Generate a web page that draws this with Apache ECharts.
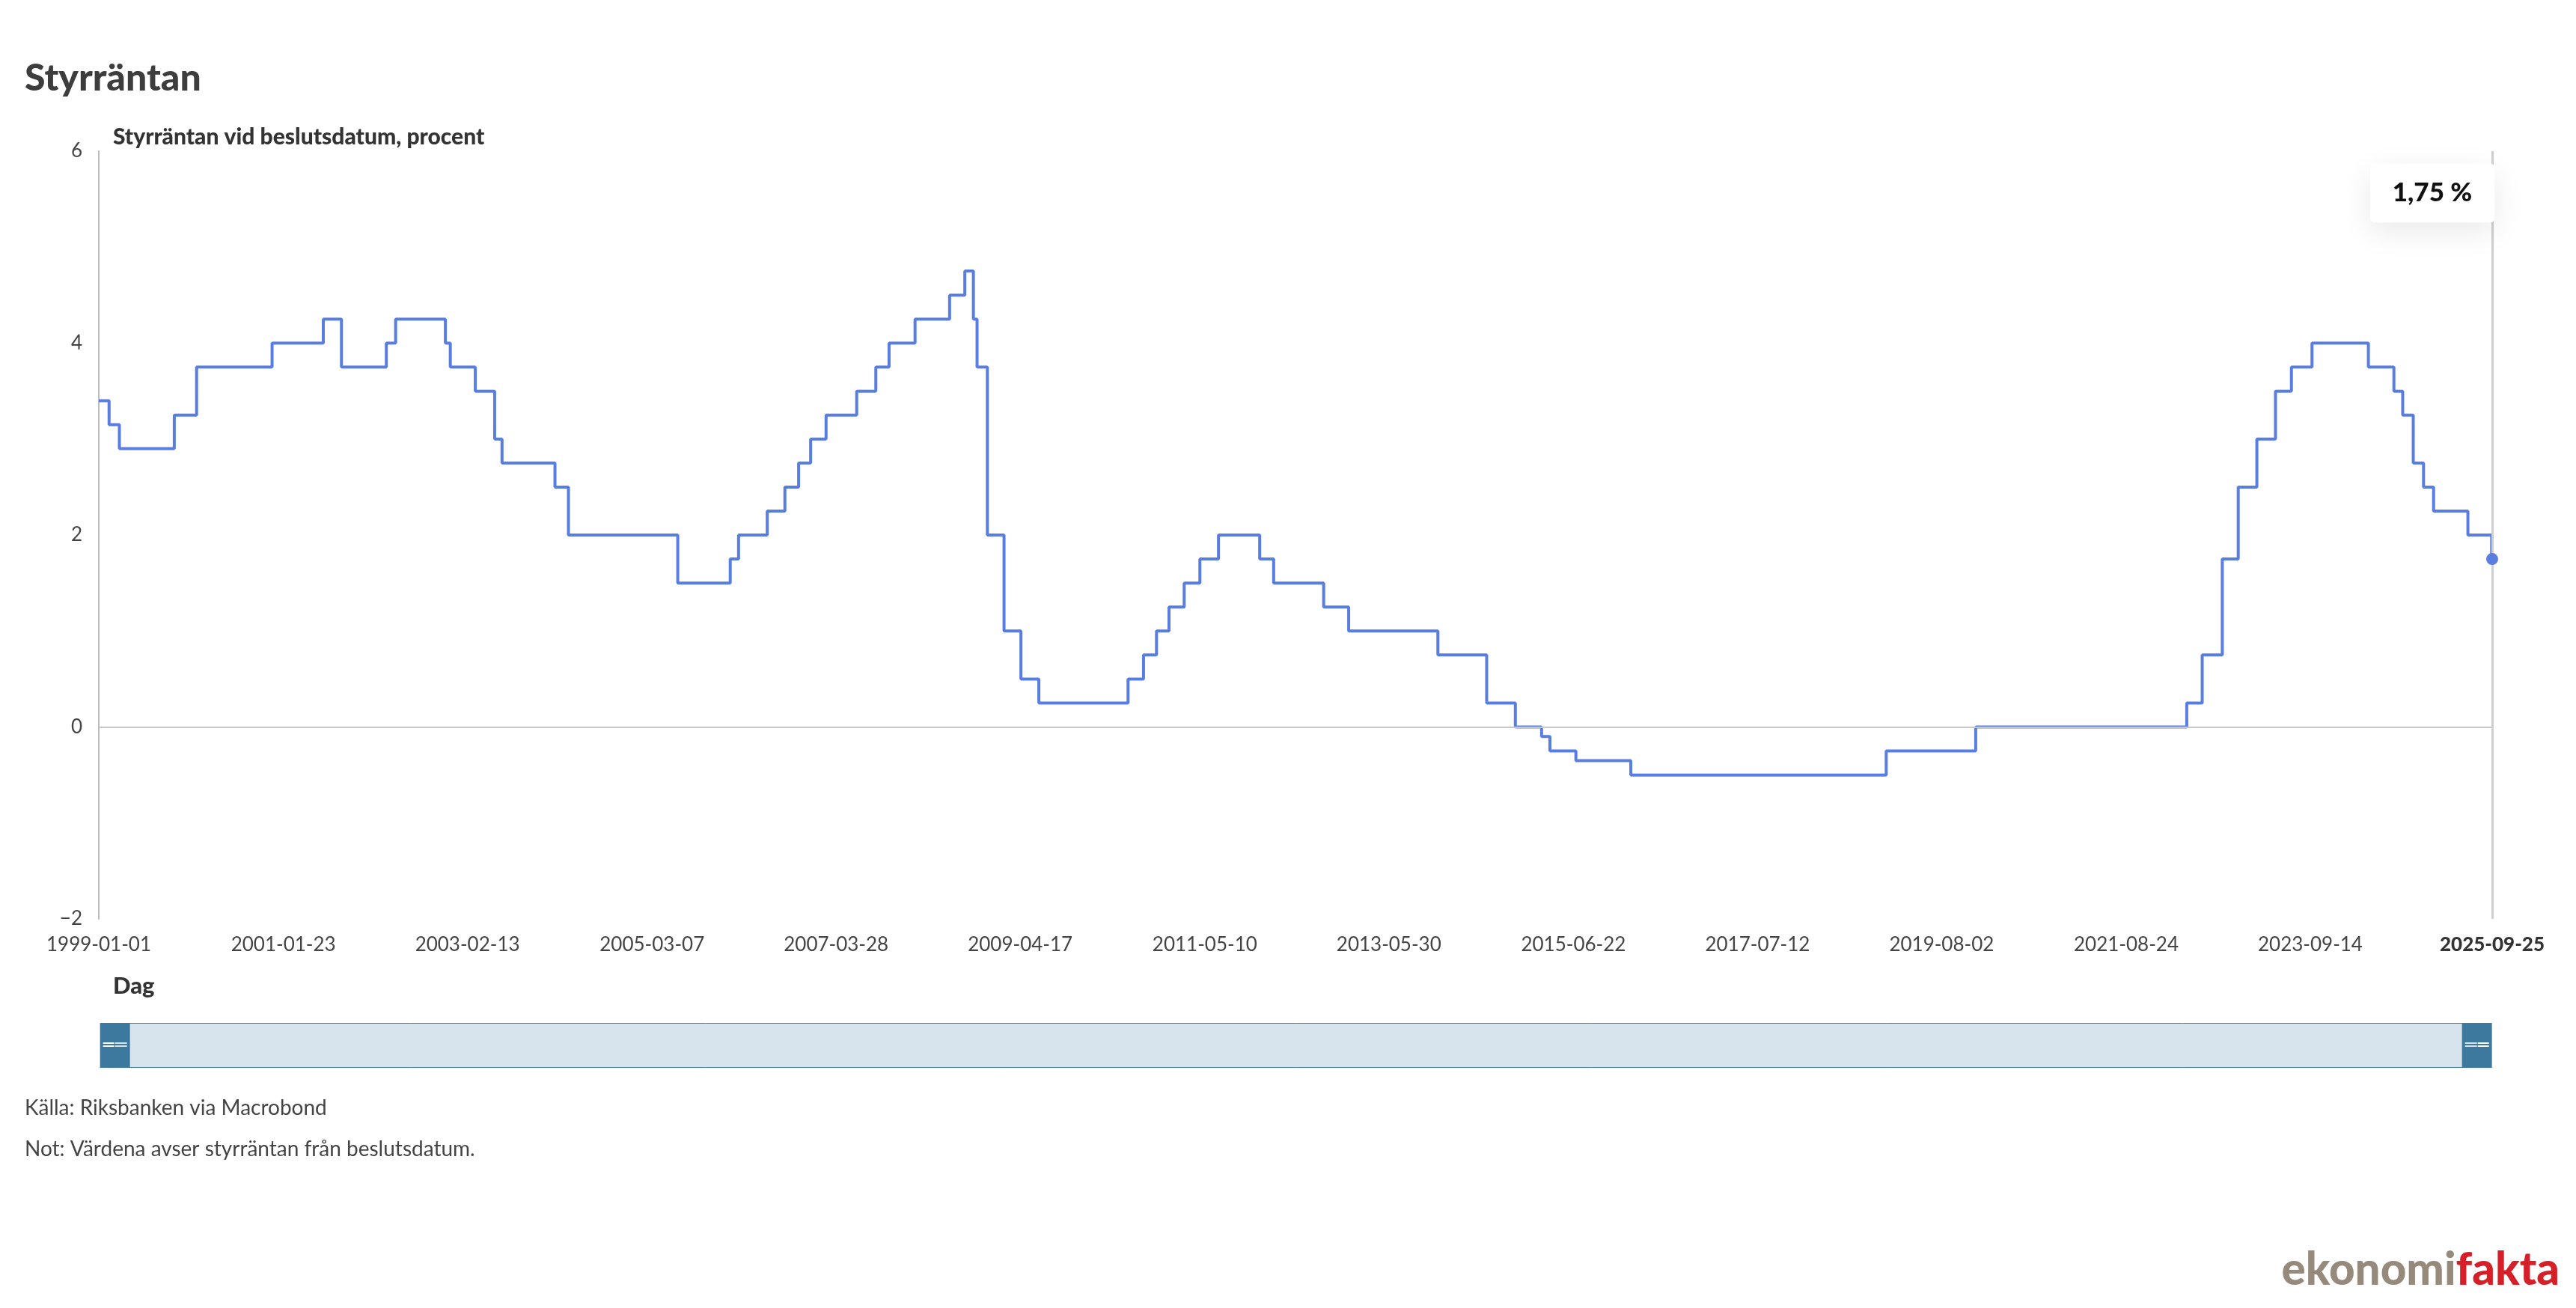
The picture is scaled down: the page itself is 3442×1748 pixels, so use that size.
<!DOCTYPE html>
<html>
<head>
<meta charset="utf-8">
<script src="https://cdn.jsdelivr.net/npm/echarts@6/dist/echarts.min.js"></script>
<style>
  html, body { margin: 0; padding: 0; background: #fff; }
  #main { width: 3442px; height: 1748px; }
</style>
</head>
<body>
<div id="main"></div>
<script>
// styrräntan, värde från beslutsdatum
const decisionDates = [
  "1999-01-01", "1999-02-12", "1999-03-26", "1999-11-05", "2000-02-04", "2000-12-08",
  "2001-07-05", "2001-09-17", "2002-03-19", "2002-04-26", "2002-11-15", "2002-12-05",
  "2003-03-17", "2003-06-04", "2003-07-04", "2004-02-05", "2004-03-31", "2005-06-20",
  "2006-01-20", "2006-02-23", "2006-06-20", "2006-08-31", "2006-10-26", "2006-12-14",
  "2007-02-15", "2007-06-20", "2007-09-06", "2007-10-30", "2008-02-13", "2008-07-03",
  "2008-09-03", "2008-10-08", "2008-10-23", "2008-12-04", "2009-02-10", "2009-04-20",
  "2009-07-02", "2010-07-01", "2010-09-02", "2010-10-25", "2010-12-15", "2011-02-15",
  "2011-04-20", "2011-07-05", "2011-12-20", "2012-02-15", "2012-09-06", "2012-12-17",
  "2013-12-16", "2014-07-03", "2014-10-28", "2015-02-12", "2015-03-18", "2015-07-02",
  "2016-02-11", "2018-12-19", "2019-12-19", "2022-04-28", "2022-06-30", "2022-09-20",
  "2022-11-24", "2023-02-08", "2023-04-25", "2023-06-29", "2023-09-21", "2024-05-08",
  "2024-08-20", "2024-09-25", "2024-11-07", "2024-12-19", "2025-01-29", "2025-06-18",
  "2025-09-23", "2025-09-25"
];
const repoRates = [
  3.40, 3.15, 2.90, 3.25, 3.75, 4.00,
  4.25, 3.75, 4.00, 4.25, 4.00, 3.75,
  3.50, 3.00, 2.75, 2.50, 2.00, 1.50,
  1.75, 2.00, 2.25, 2.50, 2.75, 3.00,
  3.25, 3.50, 3.75, 4.00, 4.25, 4.50,
  4.75, 4.25, 3.75, 2.00, 1.00, 0.50,
  0.25, 0.50, 0.75, 1.00, 1.25, 1.50,
  1.75, 2.00, 1.75, 1.50, 1.25, 1.00,
  0.75, 0.25, 0.00, -0.10, -0.25, -0.35,
  -0.50, -0.25, 0.00, 0.25, 0.75, 1.75,
  2.50, 3.00, 3.50, 3.75, 4.00, 3.75,
  3.50, 3.25, 2.75, 2.50, 2.25, 2.00,
  1.75, 1.75
];
const xTickLabels = [
  "1999-01-01", "2001-01-23", "2003-02-13", "2005-03-07", "2007-03-28",
  "2009-04-17", "2011-05-10", "2013-05-30", "2015-06-22", "2017-07-12",
  "2019-08-02", "2021-08-24", "2023-09-14", "2025-09-25"
];

const toTs = (d) => Date.parse(d);
const seriesData = decisionDates.map((d, i) => [toTs(d), repoRates[i]]);
const firstTs = toTs(xTickLabels[0]);
const lastTs = toTs(xTickLabels[xTickLabels.length - 1]);
const lastRate = repoRates[repoRates.length - 1];
const lineColor = "#5a7ee0";

const chart = echarts.init(document.getElementById("main"));

const option = {
  animation: false,
  backgroundColor: "#fff",
  textStyle: { fontFamily: "Lato" },
  title: [
    {
      text: "Styrräntan", left: 33, top: 80, padding: 0,
      textStyle: { fontFamily: "Lato", fontWeight: 900, fontSize: 50, color: "#3d3d3d" },
    },
    {
      text: "Styrräntan vid beslutsdatum, procent", left: 151, top: 168, padding: 0,
      textStyle: { fontFamily: "Lato", fontWeight: 900, fontSize: 30, color: "#333" },
    },
    {
      text: "Dag", left: 151, top: 1302, padding: 0,
      textStyle: { fontFamily: "Lato", fontWeight: 900, fontSize: 31, color: "#333" },
    },
    {
      text: "Källa: Riksbanken via Macrobond", left: 33, top: 1467, padding: 0,
      textStyle: { fontFamily: "Lato", fontWeight: "normal", fontSize: 28, color: "#444" },
    },
    {
      text: "Not: Värdena avser styrräntan från beslutsdatum.", left: 33, top: 1522, padding: 0,
      textStyle: { fontFamily: "Lato", fontWeight: "normal", fontSize: 28, color: "#444" },
    },
    {
      text: "{a|ekonomi}{b|fakta}", right: 22, top: 1668, padding: 0,
      textStyle: {
        rich: {
          a: { fontFamily: "Lato", fontWeight: 900, fontSize: 60, color: "#958a7b" },
          b: { fontFamily: "Lato", fontWeight: 900, fontSize: 60, color: "#d61f28" },
        },
      },
    },
  ],
  grid: { left: 132, right: 112, top: 202, bottom: 1748 - 1228, containLabel: false },
  xAxis: {
    type: "value",
    min: firstTs,
    max: lastTs,
    scale: true,
    axisLine: { show: false, onZero: false },
    axisTick: { show: false },
    splitLine: { show: false },
    axisLabel: {
      customValues: xTickLabels.map(toTs),
      margin: 22,
      fontFamily: "Lato",
      fontSize: 26,
      color: "#444",
      hideOverlap: false,
      formatter: (v) => {
        const s = new Date(v).toISOString().slice(0, 10);
        return v === lastTs ? "{b|" + s + "}" : s;
      },
      rich: {
        b: { fontFamily: "Lato", fontWeight: 900, fontSize: 26, color: "#333" },
      },
    },
  },
  yAxis: {
    type: "value",
    min: -2,
    max: 6,
    interval: 2,
    axisLine: { show: true, lineStyle: { color: "#bbb", width: 2 } },
    axisTick: { show: false },
    splitLine: { show: false },
    axisLabel: {
      margin: 22,
      fontFamily: "Lato",
      fontSize: 26,
      color: "#444",
      formatter: (v) => (v < 0 ? "\u2212" + Math.abs(v) : String(v)),
    },
  },
  dataZoom: [
    {
      type: "slider",
      xAxisIndex: 0,
      start: 0,
      end: 100,
      left: 152,
      right: 132,
      top: 1367,
      height: 60,
      showDataShadow: false,
      showDetail: false,
      brushSelect: false,
      moveHandleSize: 0,
      backgroundColor: "#d7e4ee",
      fillerColor: "#d7e4ee",
      borderColor: "#3f7ca2",
      borderRadius: 0,
      handleIcon: "path://M0,0H40V60H0Z M4,28V30H36V28Z M4,32V34H36V32Z",
      handleSize: "100%",
      handleStyle: { color: "#3d799e", borderWidth: 0 },
      emphasis: { handleStyle: { color: "#3d799e", borderWidth: 0 } },
    },
  ],
  series: [
    {
      type: "line",
      step: "end",
      data: seriesData,
      showSymbol: false,
      lineStyle: { color: lineColor, width: 4 },
      itemStyle: { color: lineColor },
      silent: true,
      markLine: {
        silent: true,
        symbol: ["none", "none"],
        label: { show: false },
        data: [
          { yAxis: 0, lineStyle: { color: "#c8c8c8", width: 2, type: "solid" } },
          { xAxis: lastTs, lineStyle: { color: "#cfcfcf", width: 3, type: "solid" } },
        ],
      },
      markPoint: {
        silent: true,
        data: [
          {
            coord: [lastTs, lastRate],
            symbol: "circle",
            symbolSize: 16,
            itemStyle: { color: lineColor },
            label: { show: false },
          },
          {
            coord: [lastTs, 6],
            symbol: "rect",
            symbolSize: [1, 1],
            itemStyle: { color: "rgba(0,0,0,0)" },
            label: {
              show: true,
              position: "inside",
              offset: [-80, 56],
              formatter: lastRate.toFixed(2).replace(".", ",") + " %",
              fontFamily: "Lato",
              fontWeight: 900,
              fontSize: 35,
              color: "#111",
              backgroundColor: "#fff",
              padding: [22, 30],
              borderRadius: 6,
              shadowColor: "rgba(0,0,0,0.09)",
              shadowBlur: 40,
              shadowOffsetY: 12,
            },
          },
        ],
      },
    },
  ],
};

chart.setOption(option);
</script>
</body>
</html>
